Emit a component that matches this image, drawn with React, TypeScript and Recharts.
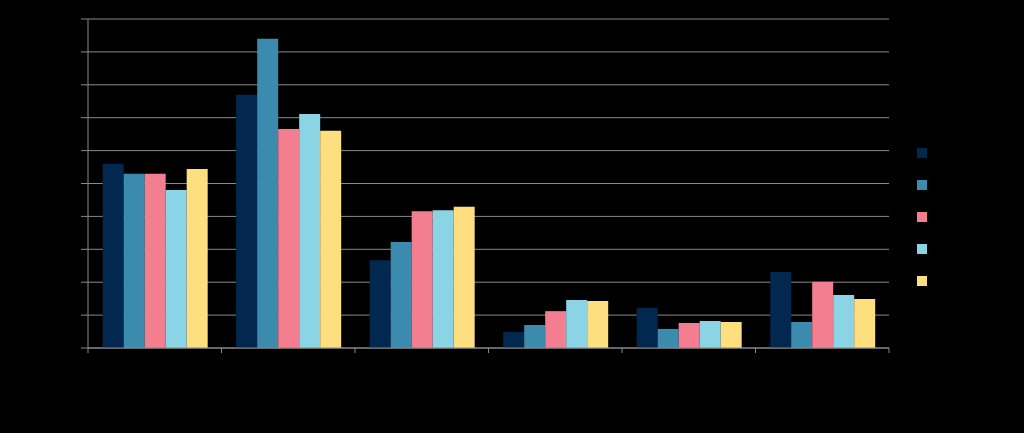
import { Bar, BarChart, CartesianGrid, Legend, XAxis, YAxis } from "recharts"

const categories = ["Category 1", "Category 2", "Category 3", "Category 4", "Category 5", "Category 6"]
const seriesNames = ["Series 1", "Series 2", "Series 3", "Series 4", "Series 5"]
const seriesColors = ["#02284f", "#3a8bad", "#f27e8f", "#8ad4e6", "#fddf80"]

const series1 = [56, 77, 26.7, 4.9, 12.2, 23.1]
const series2 = [53, 94, 32.2, 7, 5.8, 7.9]
const series3 = [53, 66.6, 41.6, 11.2, 7.6, 20.1]
const series4 = [48, 71.1, 41.9, 14.6, 8.2, 16.1]
const series5 = [54.4, 66, 42.9, 14.3, 7.9, 14.9]

const yTicks = [0, 10, 20, 30, 40, 50, 60, 70, 80, 90, 100]

const seriesValues = [series1, series2, series3, series4, series5]

const data = categories.map((name, i) => {
  const row: Record<string, string | number> = { name }
  seriesNames.forEach((s, j) => {
    row[s] = seriesValues[j][i]
  })
  return row
})

const W = 1024
const H = 433
const Y_AXIS_W = 88
const X_AXIS_H = 85
const LEGEND_W = 135
const PLOT_W = W - Y_AXIS_W - LEGEND_W
const PLOT_BOTTOM = H - X_AXIS_H
const HALF_BAND = PLOT_W / categories.length / 2
const AXIS = "#898989"

function EdgeTick(props: any) {
  const { x, payload, index } = props
  const last = index === categories.length - 1
  return (
    <g>
      <line x1={x - HALF_BAND} x2={x - HALF_BAND} y1={PLOT_BOTTOM} y2={PLOT_BOTTOM + 5} stroke={AXIS} />
      {last && <line x1={x + HALF_BAND} x2={x + HALF_BAND} y1={PLOT_BOTTOM} y2={PLOT_BOTTOM + 5} stroke={AXIS} />}
      <text x={x} y={PLOT_BOTTOM + 20} textAnchor="middle" fill="#000" fontSize={12}>
        {payload.value}
      </text>
    </g>
  )
}

function LegendBox() {
  return (
    <div style={{ width: LEGEND_W }}>
      {seriesNames.map((s, i) => (
        <div key={s} style={{ height: 32, display: "flex", alignItems: "center", paddingLeft: 28 }}>
          <span style={{ width: 10, height: 10, background: seriesColors[i], display: "inline-block" }} />
          <span style={{ marginLeft: 8, color: "#000", fontSize: 12 }}>{s}</span>
        </div>
      ))}
    </div>
  )
}

export default function App() {
  return (
    <div style={{ position: "fixed", left: 0, top: 0, width: W, height: H, background: "#000", fontFamily: "Liberation Sans, Arial, sans-serif" }}>
      <BarChart width={W} height={H} data={data} margin={{ top: 19, right: 0, left: 0, bottom: 0 }} barGap={0} barCategoryGap="11%">
        <CartesianGrid horizontal vertical={false} stroke={AXIS} />
        <XAxis dataKey="name" height={X_AXIS_H} axisLine={{ stroke: AXIS }} tickLine={false} tick={<EdgeTick />} interval={0} />
        <YAxis width={Y_AXIS_W} domain={[0, 100]} ticks={yTicks} axisLine={{ stroke: AXIS }} tickLine={{ stroke: AXIS }} tickSize={7} tick={{ fill: "#000", fontSize: 12 }} />
        <Legend layout="vertical" align="right" verticalAlign="middle" content={<LegendBox />} />
        {seriesNames.map((s, i) => (
          <Bar key={s} dataKey={s} fill={seriesColors[i]} isAnimationActive={false} />
        ))}
      </BarChart>
    </div>
  )
}
